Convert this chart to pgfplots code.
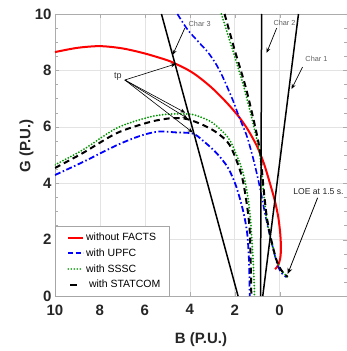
\documentclass[border=0pt]{standalone}
\usepackage{fontspec}
\setmainfont{Liberation Sans}
\usepackage{pgfplots}
\pgfplotsset{compat=1.18}
\usetikzlibrary{arrows.meta}
\definecolor{mred}{RGB}{255,0,0}
\definecolor{mblue}{RGB}{0,0,255}
\definecolor{mgreen}{RGB}{0,150,0}
\begin{document}
\begin{tikzpicture}
\path[use as bounding box] (-55pt,-55pt) rectangle (292pt,296pt);
\begin{axis}[
 at={(0pt,0pt)}, anchor=south west,
 width=292pt, height=282pt, scale only axis,
 x dir=reverse, xmin=-3, xmax=10, ymin=0, ymax=10,
 xtick={0,2,...,10}, ytick={0,2,...,10},
 minor y tick num=3,
 tick align=inside,
 grid=major, major grid style={gray!22},
 axis line style={gray!65},
 tick style={gray!65},
 ticklabel style={font=\bfseries\fontsize{15}{15}\selectfont, text=black!85},
 xticklabel style={yshift=-5pt},
 /pgf/number format/assume math mode=true,
 xlabel={B (P.U.)}, ylabel={G (P.U.)},
 label style={font=\bfseries\fontsize{15}{15}\selectfont, text=black!85},
 xlabel style={at={(axis description cs:0.5,-0.155)}, anchor=center},
 ylabel style={at={(axis description cs:-0.098,0.532)}, anchor=center},
 title={(a)},
 title style={at={(axis description cs:0.5,1)}, anchor=base, yshift=14pt, font=\bfseries\fontsize{15}{15}\selectfont},
 legend cell align=left,
 legend style={at={(0,0)}, anchor=south west, draw=gray!70, fill=white,
   font=\fontsize{10.5}{12}\selectfont, row sep=2.6pt, inner xsep=2pt, inner ysep=4.5pt},
 legend image code/.code={\draw[draw=none] (0pt,0pt) -- (1pt,0pt); \draw[#1] (11pt,0pt) -- (26pt,0pt);},
 every axis plot/.append style={smooth, tension=0.5},
]
\addlegendimage{mred, line width=1.8pt}
\addlegendentry{without FACTS\hspace*{9pt}}
\addlegendimage{mblue, line width=1.8pt, dash pattern=on 5pt off 2.5pt}
\addlegendentry{with UPFC}
\addlegendimage{mgreen, line width=1.8pt, line cap=round, dash pattern=on 0pt off 3pt}
\addlegendentry{with SSSC}
\addlegendimage{legend image code/.code={\draw[draw=none] (0pt,0pt) -- (1pt,0pt); \draw[black, line width=2pt] (13pt,0pt) -- (20pt,0pt);}}
\addlegendentry{\ with STATCOM}

% without FACTS
\addplot[mred, line width=2pt, forget plot] coordinates {
(10,8.65) (9,8.8) (8,8.86) (7,8.78) (6,8.6) (5,8.36) (4.62,8.23) (4.2,8.07) (3.8,7.88) (3.4,7.64) (3.0,7.37) (2.6,7.06) (2.2,6.72) (1.78,6.32) (1.4,5.88) (1.0,5.3) (0.7,4.7) (0.45,4.05) (0.22,3.4) (0.06,2.8) (-0.03,2.2) (-0.06,1.7) (-0.03,1.35) (0.06,1.1) (0.2,0.95)};

% UPFC lower
\addplot[mblue, line width=1.8pt, dash pattern=on 6pt off 2.5pt on 1.5pt off 2.5pt, forget plot] coordinates {
(10,4.29) (8.76,4.75) (7.24,5.35) (6.2,5.68) (5.4,5.83) (4.6,5.8) (3.86,5.76) (3.4,5.5) (2.81,5.07) (2.3,4.55) (1.93,3.88) (1.62,3.0) (1.44,2.2) (1.36,1.2) (1.33,0)};
% UPFC upper
\addplot[mblue, line width=1.6pt, dash pattern=on 6pt off 2.5pt on 1.5pt off 2.5pt, forget plot] coordinates {
(4.55,10) (4.1,9.45) (3.6,9.0) (3.2,8.65) (2.85,8.25) (2.55,7.8) (2.3,7.35) (2.07,6.92) (1.85,6.45) (1.65,6.05) (1.45,5.65) (1.2,4.95) (1.02,4.36) (0.84,3.7) (0.67,3.0) (0.48,2.3) (0.3,1.72) (0.13,1.2) (-0.05,0.85) (-0.3,0.67)};

% SSSC lower
\addplot[mgreen, line width=2pt, line cap=round, dash pattern=on 0pt off 3pt, forget plot] coordinates {
(10,4.65) (8.76,5.18) (7.24,5.96) (5.78,6.35) (4.89,6.45) (4.0,6.45) (3.56,6.36) (3.1,6.2) (2.7,5.95) (2.2,5.5) (1.64,4.4) (1.36,3.2) (1.22,1.8) (1.14,0.6) (1.12,0)};
% SSSC upper
\addplot[mgreen, line width=2pt, line cap=round, dash pattern=on 0pt off 3pt, forget plot] coordinates {
(2.59,10) (2.09,8.72) (1.64,7.55) (1.33,6.6) (1.04,5.64) (0.88,5.0) (0.74,3.87) (0.59,2.8) (0.38,1.98) (0.15,1.3) (-0.07,0.92) (-0.35,0.68)};

% STATCOM lower
\addplot[black, line width=2pt, dash pattern=on 6pt off 4pt, forget plot] coordinates {
(10,4.54) (8.76,5.07) (7.24,5.78) (5.78,6.17) (4.89,6.3) (4.3,6.3) (3.9,6.22) (3.4,6.06) (2.81,5.8) (2.22,5.35) (1.7,4.3) (1.45,3.2) (1.33,2.3) (1.28,1) (1.26,0)};
% STATCOM upper
\addplot[black, line width=2pt, dash pattern=on 6pt off 4pt, forget plot] coordinates {
(2.45,10) (2.0,8.72) (1.56,7.55) (1.26,6.6) (0.99,5.64) (0.85,5.0) (0.72,3.87) (0.57,2.8) (0.37,1.98) (0.15,1.3) (-0.07,0.92) (-0.35,0.68)};

% characteristics
\addplot[black, line width=1.5pt, sharp plot, forget plot] coordinates {(5.26,10) (1.85,0)};
\addplot[black, line width=1.5pt, sharp plot, forget plot] coordinates {(0.8,10) (0.85,0)};
\addplot[black, line width=1.5pt, sharp plot, forget plot] coordinates {(-0.84,10) (0.75,0)};

% annotations
\node[font=\fontsize{7.3}{8}\selectfont, text=gray!75!black] at (axis cs:3.56,9.65) {Char 3};
\draw[-{Stealth[length=5pt,width=4pt]}, line width=0.7pt] (axis cs:4.22,9.5) -- (axis cs:4.76,8.55);
\node[font=\fontsize{7.3}{8}\selectfont, text=gray!75!black] at (axis cs:-0.22,9.68) {Char 2};
\draw[-{Stealth[length=5pt,width=4pt]}, line width=0.7pt] (axis cs:0.13,9.5) -- (axis cs:0.58,8.62);
\node[font=\fontsize{7.3}{8}\selectfont, text=gray!75!black] at (axis cs:-1.64,8.4) {Char 1};
\draw[-{Stealth[length=5pt,width=4pt]}, line width=0.7pt] (axis cs:-1.02,8.12) -- (axis cs:-0.53,7.34);
\node[font=\fontsize{9}{10}\selectfont, text=black!80] at (axis cs:7.2,7.77) {tp};
\draw[-{Stealth[length=5pt,width=4pt]}, line width=0.6pt] (axis cs:6.89,7.66) -- (axis cs:4.62,8.23);
\draw[-{Stealth[length=5pt,width=4pt]}, line width=0.6pt] (axis cs:6.89,7.66) -- (axis cs:4.2,6.5);
\draw[-{Stealth[length=5pt,width=4pt]}, line width=0.6pt] (axis cs:6.89,7.66) -- (axis cs:4.1,6.3);
\draw[-{Stealth[length=5pt,width=4pt]}, line width=0.6pt] (axis cs:6.89,7.66) -- (axis cs:3.87,5.8);
\node[font=\fontsize{8.6}{10}\selectfont, text=black!85] at (axis cs:-1.73,3.69) {LOE at 1.5 s.};
\draw[-{Stealth[length=6pt,width=5pt]}, line width=0.8pt] (axis cs:-1.69,3.48) -- (axis cs:-0.36,0.78);
\end{axis}
\end{tikzpicture}
\end{document}
